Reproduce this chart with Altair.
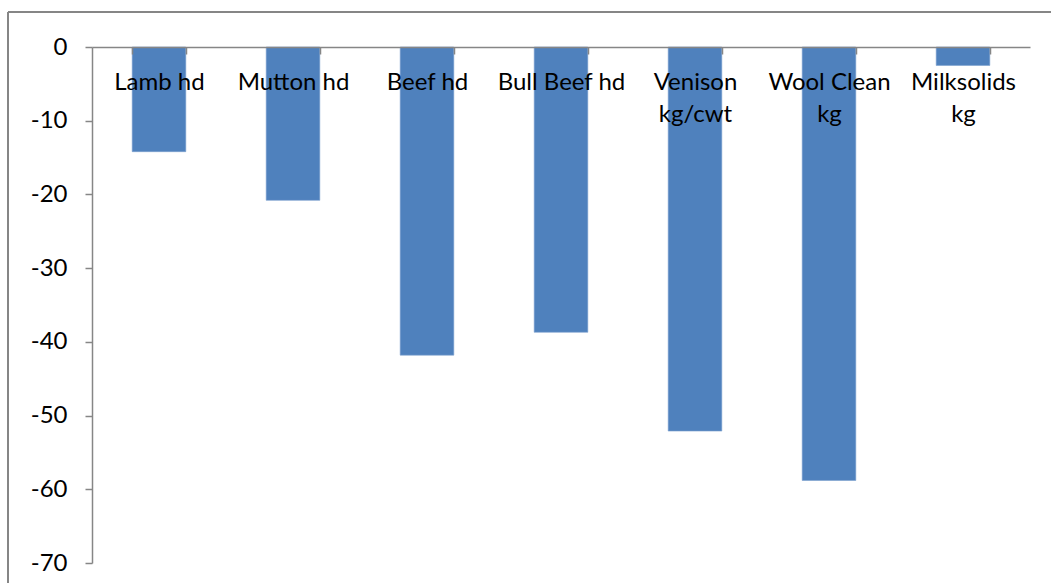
import altair as alt
import pandas as pd

categories = ["Lamb hd", "Mutton hd", "Beef hd", "Bull Beef hd", "Venison kg/cwt", "Wool Clean kg", "Milksolids kg"]
label_lines = ["Lamb hd", "Mutton hd", "Beef hd", "Bull Beef hd", "Venison|kg/cwt", "Wool Clean|kg", "Milksolids|kg"]
values = [-14.2, -20.8, -41.8, -38.7, -52.1, -58.8, -2.5]
y_ticks = [0, -10, -20, -30, -40, -50, -60, -70]

df = pd.DataFrame({"cat": categories, "value": values})

FONT = "Lato"
FS = 24
GRAY = "#868686"
W, H = 938, 516

label_map = " : ".join(
    [f"datum.value === '{c}' ? '{l}'" for c, l in zip(categories, label_lines)]
) + " : ''"
label_expr = "split(" + label_map + ", '|')"

bars = alt.Chart(df).mark_bar(color="#4F81BD", stroke="#7A9FCF", strokeWidth=0.6).encode(
    x=alt.X(
        "cat:N",
        sort=categories,
        scale=alt.Scale(paddingInner=0.6, paddingOuter=0.3),
        axis=alt.Axis(
            orient="bottom",
            offset=-H,
            title=None,
            grid=False,
            labelAngle=0,
            labelExpr=label_expr,
            labelFont=FONT,
            labelFontSize=FS,
            labelColor="#000000",
            labelPadding=16,
            labelBaseline="top",
            labelLineHeight=32,
            tickBand="extent",
            tickSize=7,
            tickColor=GRAY,
            domainColor=GRAY,
            domainWidth=1.5,
            tickWidth=1.5,
            zindex=2,
        ),
    ),
    y=alt.Y(
        "value:Q",
        scale=alt.Scale(domain=[-70, 0], nice=False),
        axis=alt.Axis(
            values=y_ticks,
            title=None,
            grid=False,
            labelExpr="toString(datum.value)",
            labelFont=FONT,
            labelFontSize=FS,
            labelColor="#000000",
            labelPadding=18,
            tickSize=7,
            tickColor=GRAY,
            domainColor=GRAY,
            domainWidth=1.5,
            tickWidth=1.5,
            zindex=2,
        ),
    ),
)

# outer chart frame (left and top edges visible)
frame_left = alt.Chart(df).mark_rule(color=GRAY, strokeWidth=1.5).encode(
    x=alt.value(-84), y=alt.value(-35), y2=alt.value(H + 40)
)
frame_top = alt.Chart(df).mark_rule(color=GRAY, strokeWidth=1.5).encode(
    x=alt.value(-84), x2=alt.value(W + 40), y=alt.value(-35)
)

chart = alt.layer(frame_left, frame_top, bars).properties(
    width=W,
    height=H,
    background="white",
    autosize=alt.AutoSizeParams(type="none"),
    padding={"left": 92, "top": 47, "right": 21, "bottom": 20},
).configure_view(strokeWidth=0, stroke="transparent")

chart.save("out.html", embed_options={"renderer": "svg", "actions": False})
